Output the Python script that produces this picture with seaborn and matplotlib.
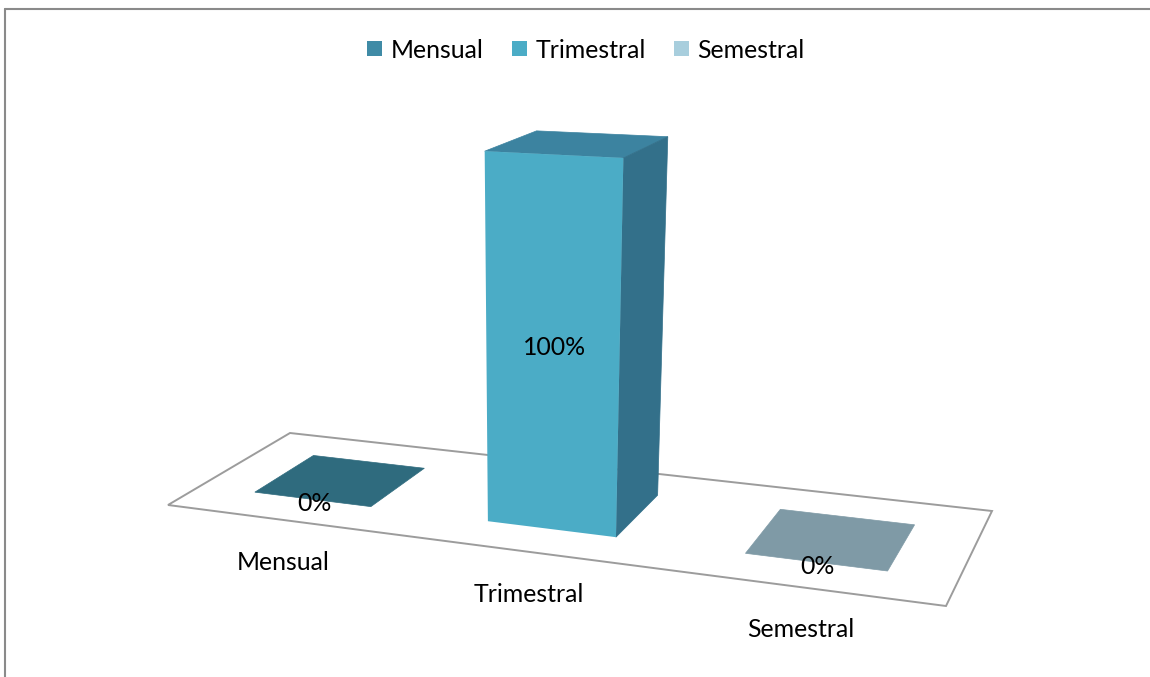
import numpy as np
import pandas as pd
import matplotlib
matplotlib.use("Agg")
import matplotlib.pyplot as plt
from matplotlib.lines import Line2D
from matplotlib.patches import Polygon, Patch
from matplotlib.transforms import Transform
import seaborn as sns

# Datos del grafico
periodos = ["Mensual", "Trimestral", "Semestral"]
porcentajes = [0, 100, 0]

# Colores: leyenda/cara frontal, cara superior y cara lateral
color_frente = ["#3f8ba6", "#4bacc6", "#a8cedd"]
color_tapa = ["#2f6b7e", "#3c83a0", "#7f9aa6"]
color_lado = ["#2a6072", "#33708a", "#6f8994"]

ANCHO, ALTO = 1150, 677
ANCHO_BARRA = 0.51
FONDO_FRENTE, FONDO_ATRAS = 0.25, 0.75
TEXTO = 17.9

# Camara de la perspectiva: (u, fondo, altura) -> pixeles de la imagen
camara = np.array([
    [640.45, 156.16, -38.4, 168.0],
    [12.89, -21.0, -369.6, 505.0],
    [-0.1454, 0.11779, -0.0728, 1.0],
])


def proyectar(x, fondo, valor):
    u = (np.asarray(x, dtype=float) + 0.5) / 3
    z = np.asarray(valor, dtype=float) / 100
    fondo = np.full_like(u, fondo) if np.ndim(fondo) == 0 else np.asarray(fondo, dtype=float)
    p = camara @ np.vstack([u, fondo, z, np.ones_like(u)])
    return np.column_stack([p[0] / p[2], ALTO - p[1] / p[2]])


class CaraFrontal(Transform):
    # pasa (categoria, valor) de seaborn al plano frontal de las barras
    input_dims = 2
    output_dims = 2

    def transform_non_affine(self, values):
        values = np.asarray(values, dtype=float)
        return proyectar(values[:, 0], FONDO_FRENTE, values[:, 1])


def cara(puntos, color, zorder):
    xs, fs, vs = zip(*puntos)
    pts = proyectar(np.array(xs), np.array(fs), np.array(vs))
    return Polygon(pts, closed=True, transform=None, facecolor=color, edgecolor=color,
                   linewidth=0.5, zorder=zorder)


sns.set_theme(style="white")
plt.rcParams["font.family"] = ["Lato", "DejaVu Sans"]

df = pd.DataFrame({"Periodo": periodos, "Porcentaje": porcentajes})

fig = plt.figure(figsize=(ANCHO / 100, ALTO / 100), dpi=100, facecolor="white")
ax = fig.add_axes([0, 0, 1, 1])
sns.barplot(data=df, x="Periodo", y="Porcentaje", hue="Periodo", palette=color_frente,
            width=ANCHO_BARRA, dodge=False, legend=False, saturation=1, ax=ax)
ax.set_xlim(-0.5, 2.5)
ax.set_ylim(0, 100)
ax.set_axis_off()

frontal = CaraFrontal()
for barra in ax.patches:
    barra.set_transform(frontal)
    barra.set_zorder(5)
    barra.set_linewidth(0)

# Piso del grafico
piso = proyectar(np.array([-0.5, 2.5, 2.5, -0.5]), np.array([0.0, 0.0, 1.0, 1.0]), np.zeros(4))
ax.add_artist(Polygon(piso, closed=True, transform=None, facecolor="white",
                      edgecolor="#9c9c9c", linewidth=1.4, zorder=1))

# Caras superior y lateral de cada barra
for i, valor in enumerate(porcentajes):
    izq, der = i - ANCHO_BARRA / 2, i + ANCHO_BARRA / 2
    ax.add_artist(cara([(izq, FONDO_FRENTE, valor), (der, FONDO_FRENTE, valor),
                        (der, FONDO_ATRAS, valor), (izq, FONDO_ATRAS, valor)],
                       color_tapa[i], 4))
    if valor > 0:
        ax.add_artist(cara([(der, FONDO_FRENTE, 0), (der, FONDO_ATRAS, 0),
                            (der, FONDO_ATRAS, valor), (der, FONDO_FRENTE, valor)],
                           color_lado[i], 4))

# Etiquetas de datos y de categoria
for i, valor in enumerate(porcentajes):
    px, py = proyectar(np.array([i]), FONDO_FRENTE, np.array([valor / 2]))[0]
    ajuste = 2 if valor > 0 else -4
    ax.annotate(f"{valor}%", xy=(px + 2, py + ajuste), xycoords="figure pixels", ha="center",
                va="center", fontsize=TEXTO, color="black", zorder=8)
    px, py = proyectar(np.array([i]), 0.0, np.array([0]))[0]
    ax.annotate(periodos[i], xy=(px + 2, py - 43), xycoords="figure pixels", ha="center",
                va="center", fontsize=TEXTO, color="black", zorder=8)

# Leyenda arriba
marcas = [Patch(facecolor=c, edgecolor="none") for c in color_frente]
fig.legend(marcas, periodos, loc="center", bbox_to_anchor=(586 / ANCHO, 1 - 50 / ALTO), ncol=3,
           frameon=False, fontsize=TEXTO, labelcolor="black", handlelength=0.6, handleheight=0.58,
           handletextpad=0.33, columnspacing=1.15, borderpad=0)

# Borde del area del grafico
gris = "#8a8a8a"
fig.add_artist(Line2D([5 / ANCHO, 5 / ANCHO], [0, 1 - 9 / ALTO], color=gris, linewidth=1.5))
fig.add_artist(Line2D([5 / ANCHO, 1], [1 - 9 / ALTO, 1 - 9 / ALTO], color=gris, linewidth=1.5))

fig.savefig("out.png", dpi=100, facecolor="white")
